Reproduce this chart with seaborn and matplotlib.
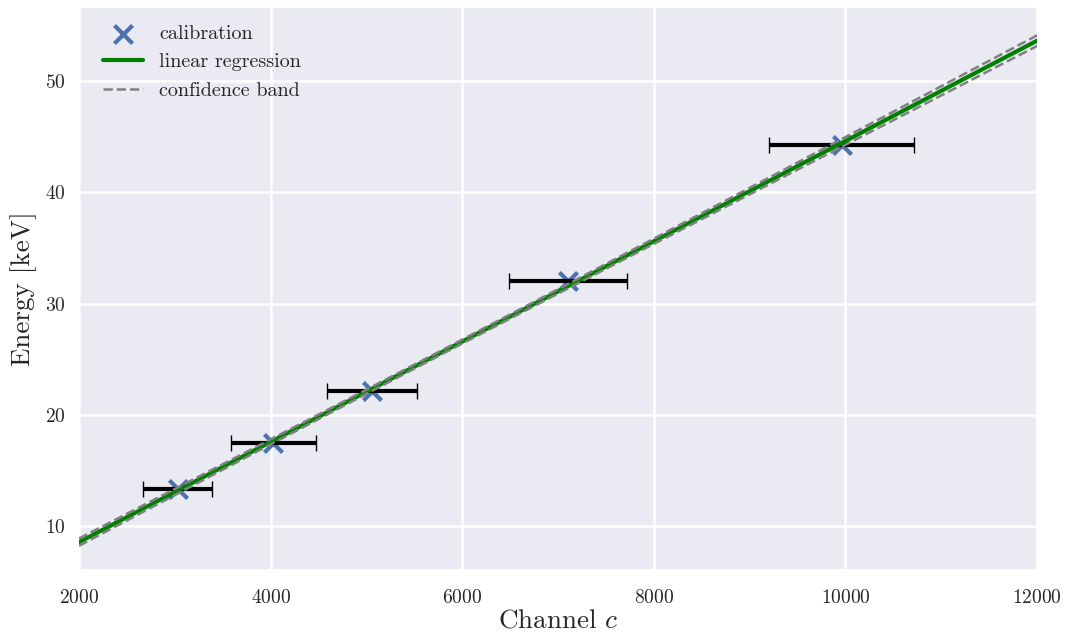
import numpy as np
import matplotlib
matplotlib.use("Agg")
import matplotlib.pyplot as plt
import seaborn as sns

# Calibration lines (channel, energy) with channel uncertainties
channels = np.array([3030, 4030, 5060, 7100, 9960])
channel_err = np.array([360, 440, 470, 615, 760])
energies = np.array([13.37, 17.44, 22.10, 32.06, 44.23])

x_ticks = [2000, 4000, 6000, 8000, 10000, 12000]
y_ticks = [10, 20, 30, 40, 50]

sns.set_theme(style="darkgrid", rc={"grid.linewidth": 1.8})
plt.rcParams["font.family"] = ["cmr10", "DejaVu Serif"]
plt.rcParams["mathtext.fontset"] = "cm"
plt.rcParams["axes.formatter.use_mathtext"] = True

# Linear fit with covariance for the confidence band
coef, cov = np.polyfit(channels, energies, 1, cov=True)
xs = np.linspace(2000, 12000, 400)
fit = np.polyval(coef, xs)
sigma = np.sqrt(cov[0, 0] * xs**2 + cov[1, 1] + 2 * xs * cov[0, 1])

fig = plt.figure(figsize=(10.67, 6.33), dpi=100)
ax = fig.add_axes([0.074, 0.0995, 0.898, 0.8895])

sns.scatterplot(x=channels, y=energies, ax=ax, marker="x", s=170,
                color="#4C72B0", linewidth=3, label="calibration", zorder=2)
ax.errorbar(channels, energies, xerr=channel_err, fmt="none", ecolor="black",
            elinewidth=3, capsize=5.5, capthick=1, zorder=3)
sns.lineplot(x=xs, y=fit, ax=ax, color="green", linewidth=3,
             label="linear regression", zorder=4)
ax.plot(xs, fit + sigma, color="gray", linestyle="--", linewidth=1.8,
        label="confidence band", zorder=5)
ax.plot(xs, fit - sigma, color="gray", linestyle="--", linewidth=1.8, zorder=5)

ax.set_xlim(2000, 12000)
ax.set_ylim(6.05, 56.65)
ax.set_xticks(x_ticks)
ax.set_yticks(y_ticks)
ax.tick_params(labelsize=14)
ax.tick_params(axis="x", pad=8)
ax.set_xlabel("Channel $c$", fontsize=19.5, labelpad=1)
ax.set_ylabel("Energy [keV]", fontsize=19.5, labelpad=6)

ax.legend(loc="upper left", bbox_to_anchor=(0.0168, 0.982), borderaxespad=0,
          frameon=False, fontsize=14.5, markerscale=1.0, handlelength=2.0)

fig.savefig("out.png", dpi=100)
